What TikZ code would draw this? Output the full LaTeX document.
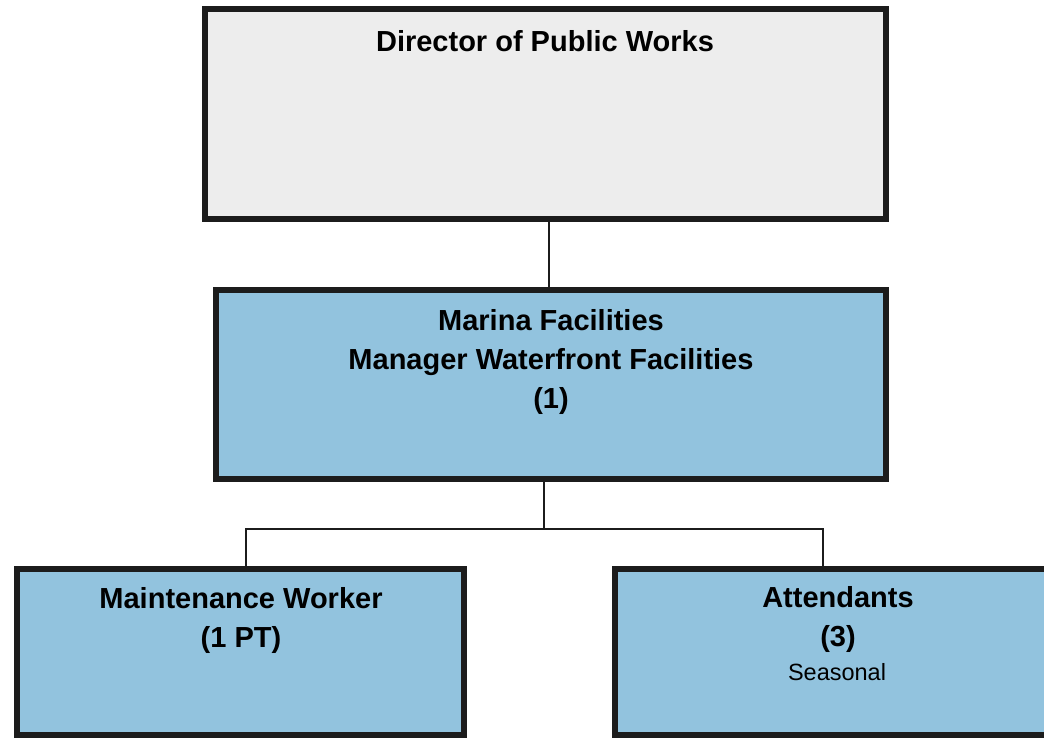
\documentclass[tikz,border=0pt]{standalone}
\usepackage{fontspec}
\setmainfont{Liberation Sans}
\definecolor{boxblue}{RGB}{146,195,222}
\definecolor{boxgray}{RGB}{237,237,237}
\definecolor{boxline}{RGB}{28,28,28}
\begin{document}
\begin{tikzpicture}[x=1pt, y=-1pt,
    box/.style={draw=boxline, line width=6pt, fill=#1, inner sep=0pt},
    T/.style={font=\bfseries\fontsize{29}{39}\selectfont, align=center},
    S/.style={font=\fontsize{23.5}{28}\selectfont},
    link/.style={draw=boxline, line width=2.5pt}]
    \useasboundingbox (0,0) rectangle (1044,738);
    \clip (0,0) rectangle (1044,738);
    % boxes
    \node[box=boxgray, minimum width=681pt, minimum height=210pt] (dir) at (545.5,114) {};
    \node[box=boxblue, minimum width=670pt, minimum height=189pt] (mgr) at (551,384.5) {};
    \node[box=boxblue, minimum width=447pt, minimum height=166pt] (maint) at (240.5,652) {};
    \node[box=boxblue, minimum width=447pt, minimum height=166pt] (att) at (838.5,652) {};
    % texts
    \node[T] (dirtxt) at (545,41) {Director of Public Works};
    \node[T] (mgrtxt) at (551,362) {Marina Facilities\\Manager Waterfront Facilities\\(1)};
    \node[T] (mainttxt) at (241,620) {Maintenance Worker\\(1 PT)};
    \node[T] (atttxt) at (838,619) {Attendants\\(3)};
    \node[S] (season) at (837,672) {Seasonal};
    % connectors
    \coordinate (bus) at (544,529);
    \draw[link] ([xshift=-2pt]mgr.north) -- ([xshift=-2pt]mgr.north |- dir.south);
    \draw[link] (mgr.south -| bus) -- (bus);
    \draw[link] ([xshift=5.5pt]maint.north) |- (bus) -| ([xshift=-15.5pt]att.north);
\end{tikzpicture}
\end{document}
